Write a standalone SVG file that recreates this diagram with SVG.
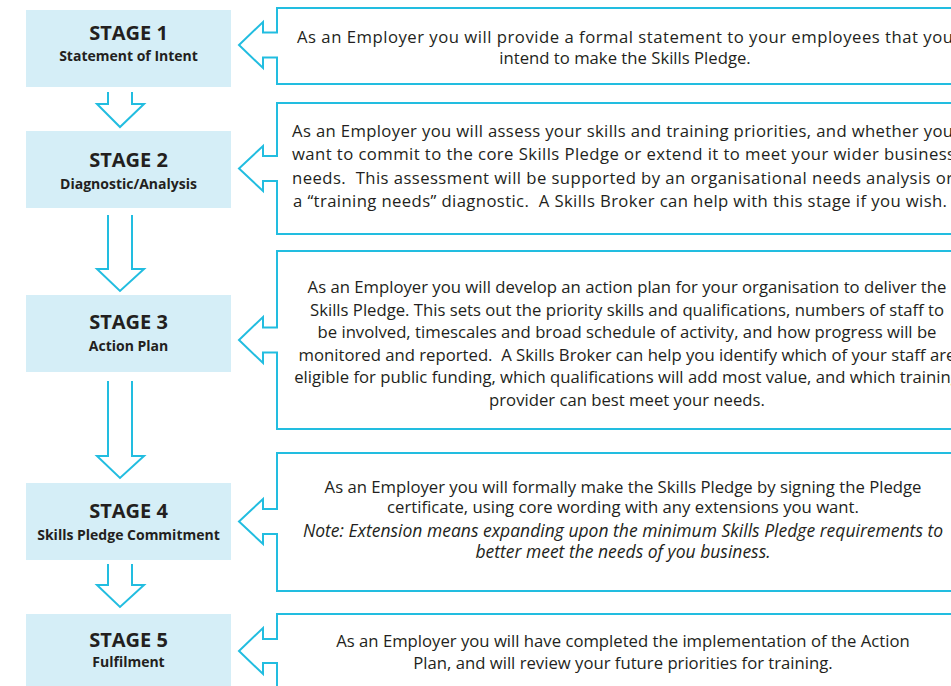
<svg xmlns="http://www.w3.org/2000/svg" width="951" height="686" viewBox="0 0 951 686">
<style>
.stage{fill:#d5eef7}
.ln{fill:none;stroke:#22bde0;stroke-width:2}
.t{font-family:"Open Sans","Noto Sans",sans-serif;fill:#231f20;text-anchor:middle}
.l{text-anchor:start}
.h{font-size:20px;font-weight:bold}
.s{font-size:14px;font-weight:bold}
.b{font-size:16.7px}
.i{font-style:italic;font-size:17.5px}
</style>
<rect width="951" height="686" fill="#fff"/>
<g id="connectors">
<path class="ln" d="M108,92 V104 H97 L120,127 L144,104 H132 V92"/>
<path class="ln" d="M108,215 V269 H97 L120,291 L144,269 H132 V215"/>
<path class="ln" d="M108,381 V456 H97 L120,478 L144,456 H132 V381"/>
<path class="ln" d="M108,564 V585 H97 L120,607 L144,585 H132 V564"/>
</g>
<g id="stage1"><rect class="stage" x="26" y="10" width="205" height="77"/>
<text class="t h" x="128.5" y="40">STAGE 1</text><text class="t s" x="128.5" y="61">Statement of Intent</text></g>
<g id="stage2"><rect class="stage" x="26" y="131" width="205" height="77"/>
<text class="t h" x="128.5" y="167">STAGE 2</text><text class="t s" x="128.5" y="189">Diagnostic/Analysis</text></g>
<g id="stage3"><rect class="stage" x="26" y="295" width="205" height="77"/>
<text class="t h" x="128.5" y="329">STAGE 3</text><text class="t s" x="128.5" y="351">Action Plan</text></g>
<g id="stage4"><rect class="stage" x="26" y="483" width="205" height="77"/>
<text class="t h" x="128.5" y="518">STAGE 4</text><text class="t s" x="128.5" y="540">Skills Pledge Commitment</text></g>
<g id="stage5"><rect class="stage" x="26" y="614" width="205" height="80"/>
<text class="t h" x="128.5" y="647">STAGE 5</text><text class="t s" x="128.5" y="667">Fulfilment</text></g>
<g id="note1"><path class="ln" d="M1000,8 H277 V32.5 H263 V22 L239,45 L263,68 V57.5 H277 V84 H1000"/>
<text class="t b l" x="297" y="43" textLength="656" lengthAdjust="spacing" xml:space="preserve">As an Employer you will provide a formal statement to your employees that you</text>
<text class="t b" x="625" y="64" xml:space="preserve">intend to make the Skills Pledge.</text></g>
<g id="note2"><path class="ln" d="M1000,103 H277 V156 H263 V146 L239,168.5 L263,191 V181 H277 V234 H1000"/>
<text class="t b l" x="292" y="137" textLength="661" lengthAdjust="spacing" xml:space="preserve">As an Employer you will assess your skills and training priorities, and whether you</text>
<text class="t b l" x="292" y="160" textLength="663" lengthAdjust="spacing" xml:space="preserve">want to commit to the core Skills Pledge or extend it to meet your wider business</text>
<text class="t b l" x="292" y="184" textLength="661" lengthAdjust="spacing" xml:space="preserve">needs.  This assessment will be supported by an organisational needs analysis or</text>
<text class="t b l" x="293" y="207" textLength="654" lengthAdjust="spacing" xml:space="preserve">a “training needs” diagnostic.  A Skills Broker can help with this stage if you wish.</text></g>
<g id="note3"><path class="ln" d="M1000,251 H277 V327.5 H263 V317 L239,340 L263,363 V352.5 H277 V429 H1000"/>
<text class="t b" x="627" y="293" xml:space="preserve">As an Employer you will develop an action plan for your organisation to deliver the</text>
<text class="t b" x="627" y="315.5" xml:space="preserve">Skills Pledge. This sets out the priority skills and qualifications, numbers of staff to</text>
<text class="t b" x="627" y="338" xml:space="preserve">be involved, timescales and broad schedule of activity, and how progress will be</text>
<text class="t b" x="627" y="360.5" xml:space="preserve">monitored and reported.  A Skills Broker can help you identify which of your staff are</text>
<text class="t b" x="627" y="383" xml:space="preserve">eligible for public funding, which qualifications will add most value, and which training</text>
<text class="t b" x="627" y="405.5" xml:space="preserve">provider can best meet your needs.</text></g>
<g id="note4"><path class="ln" d="M1000,453 H277 V509 H263 V499 L239,521.5 L263,544 V534 H277 V591 H1000"/>
<text class="t b" x="623" y="493" xml:space="preserve">As an Employer you will formally make the Skills Pledge by signing the Pledge</text>
<text class="t b" x="623" y="513" xml:space="preserve">certificate, using core wording with any extensions you want.</text>
<text class="t i" x="623" y="537" xml:space="preserve">Note: Extension means expanding upon the minimum Skills Pledge requirements to</text>
<text class="t i" x="623" y="558" xml:space="preserve">better meet the needs of you business.</text></g>
<g id="note5"><path class="ln" d="M1000,614 H277 V639 H263 V628 L239,651 L263,674 V663 H277 V700"/>
<text class="t b" x="623" y="647" xml:space="preserve">As an Employer you will have completed the implementation of the Action</text>
<text class="t b" x="623" y="669" xml:space="preserve">Plan, and will review your future priorities for training.</text></g>
</svg>
